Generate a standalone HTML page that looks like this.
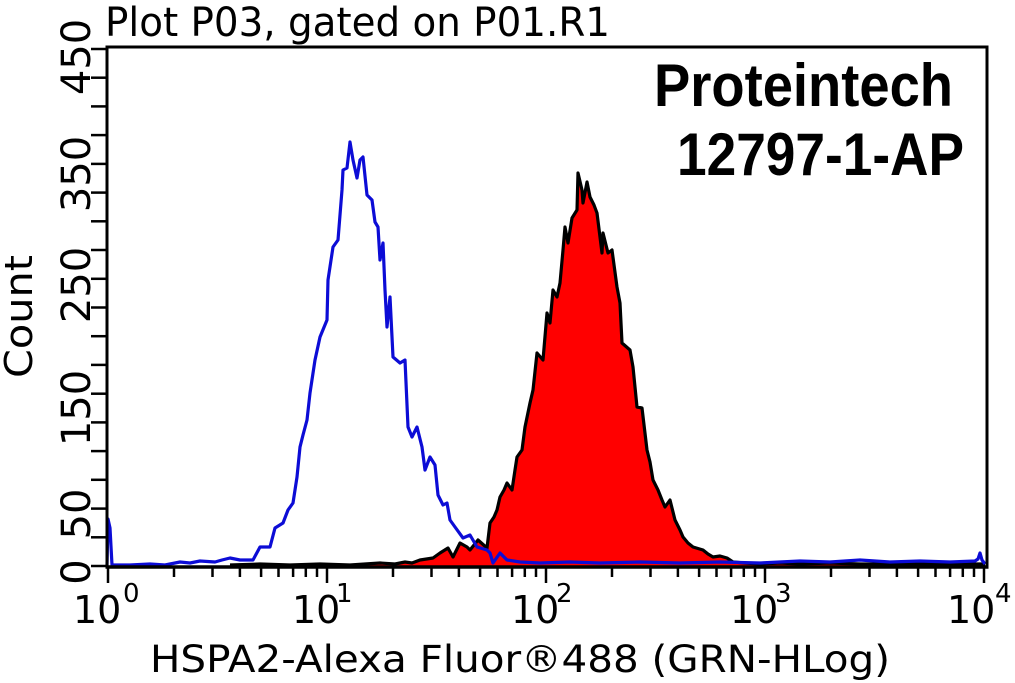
<!DOCTYPE html>
<html>
<head>
<meta charset="utf-8">
<style>
html,body{margin:0;padding:0;background:#fff;}
svg{display:block;}
text{font-family:"DejaVu Sans","Liberation Sans",sans-serif;fill:#000;}
.b{font-family:"Liberation Sans",Arial,sans-serif;font-weight:bold;}
</style>
</head>
<body>
<svg width="1015" height="683" viewBox="0 0 1015 683" xmlns="http://www.w3.org/2000/svg">
<rect x="0" y="0" width="1015" height="683" fill="#fff"/>

<!-- Title -->
<text x="105" y="36" font-size="40" textLength="505" lengthAdjust="spacingAndGlyphs">Plot P03, gated on P01.R1</text>

<!-- Red histogram (filled) -->
<path d="M230,566 L230,565 L260,564 L290,565 L320,564 L350,565 L380,563 L395,564 L405,562 L412,563 L420,560 L433,558 L440,553 L448,548 L453,557 L460,543 L467,547 L470,550 L478,540 L487,548 L490,523 L494,517 L497,510 L500,497 L504,490 L507,483 L512,490 L515,470 L517,457 L522,450 L525,427 L530,403 L533,390 L537,353 L543,360 L547,313 L550,323 L553,290 L557,297 L560,283 L563,250 L565,227 L568,243 L572,218 L577,210 L578,173 L582,190 L583,203 L587,182 L590,197 L594,205 L597,213 L602,253 L603,233 L608,253 L612,250 L617,287 L620,303 L622,343 L630,350 L633,367 L637,407 L642,408 L647,450 L650,462 L653,480 L658,490 L662,500 L665,507 L670,500 L675,520 L680,530 L683,537 L688,543 L693,547 L703,550 L708,554 L713,557 L720,556 L727,558 L733,562 L745,563 L760,564 L780,563 L800,564 L830,563 L860,564 L900,564 L940,564 L985,564 L985,566 Z" fill="#ff0000" stroke="none"/>
<path d="M230,565 L260,564 L290,565 L320,564 L350,565 L380,563 L395,564 L405,562 L412,563 L420,560 L433,558 L440,553 L448,548 L453,557 L460,543 L467,547 L470,550 L478,540 L487,548 L490,523 L494,517 L497,510 L500,497 L504,490 L507,483 L512,490 L515,470 L517,457 L522,450 L525,427 L530,403 L533,390 L537,353 L543,360 L547,313 L550,323 L553,290 L557,297 L560,283 L563,250 L565,227 L568,243 L572,218 L577,210 L578,173 L582,190 L583,203 L587,182 L590,197 L594,205 L597,213 L602,253 L603,233 L608,253 L612,250 L617,287 L620,303 L622,343 L630,350 L633,367 L637,407 L642,408 L647,450 L650,462 L653,480 L658,490 L662,500 L665,507 L670,500 L675,520 L680,530 L683,537 L688,543 L693,547 L703,550 L708,554 L713,557 L720,556 L727,558 L733,562 L745,563 L760,564 L780,563 L800,564 L830,563 L860,564 L900,564 L940,564 L985,564" fill="none" stroke="#000" stroke-width="3.2" stroke-linejoin="round"/>

<!-- Blue histogram -->
<path d="M107,566 L108,519 L110,528 L112,565 L130,565 L150,564 L165,565 L180,562 L190,563 L200,561 L215,562 L222,560 L230,558 L240,560 L253,560 L260,547 L270,547 L275,528 L283,523 L288,510 L293,503 L297,477 L300,447 L303,435 L307,420 L310,393 L315,360 L320,337 L327,320 L328,280 L333,247 L338,240 L342,190 L343,170 L347,168 L350,142 L353,160 L357,178 L360,160 L363,157 L367,195 L372,200 L375,222 L378,227 L380,260 L383,243 L385,290 L387,327 L390,297 L393,357 L400,363 L405,360 L408,427 L412,437 L417,427 L422,447 L425,470 L430,457 L435,465 L438,495 L443,505 L447,503 L450,520 L455,527 L463,538 L470,535 L477,547 L487,550 L490,553 L493,563 L500,553 L507,560 L520,562 L540,563 L570,562 L600,563 L640,562 L680,563 L720,562 L760,563 L800,561 L830,562 L860,560 L890,562 L920,561 L950,562 L975,561 L978,559 L980,553 L982,560 L985,564" fill="none" stroke="#0c0cd6" stroke-width="3.2" stroke-linejoin="round"/>

<!-- Frame -->
<rect x="107" y="47" width="880" height="520" fill="none" stroke="#000" stroke-width="3"/>
<line x1="105.5" y1="567" x2="988.5" y2="567" stroke="#000" stroke-width="3.5"/>

<!-- Y ticks -->
<g stroke="#000" stroke-width="2.5">
<line x1="91" y1="566" x2="107" y2="566"/>
<line x1="91" y1="537.3" x2="107" y2="537.3"/>
<line x1="91" y1="508.6" x2="107" y2="508.6"/>
<line x1="91" y1="479.8" x2="107" y2="479.8"/>
<line x1="91" y1="451.1" x2="107" y2="451.1"/>
<line x1="91" y1="422.4" x2="107" y2="422.4"/>
<line x1="91" y1="393.7" x2="107" y2="393.7"/>
<line x1="91" y1="364.9" x2="107" y2="364.9"/>
<line x1="91" y1="336.2" x2="107" y2="336.2"/>
<line x1="91" y1="307.5" x2="107" y2="307.5"/>
<line x1="91" y1="278.8" x2="107" y2="278.8"/>
<line x1="91" y1="250.0" x2="107" y2="250.0"/>
<line x1="91" y1="221.3" x2="107" y2="221.3"/>
<line x1="91" y1="192.6" x2="107" y2="192.6"/>
<line x1="91" y1="163.9" x2="107" y2="163.9"/>
<line x1="91" y1="135.1" x2="107" y2="135.1"/>
<line x1="91" y1="106.4" x2="107" y2="106.4"/>
<line x1="91" y1="77.7" x2="107" y2="77.7"/>
<line x1="91" y1="49" x2="107" y2="49"/>
</g>

<!-- Y labels (rotated) -->
<g font-size="40" text-anchor="middle">
<text transform="translate(90,57) rotate(-90)">450</text>
<text transform="translate(90,174) rotate(-90)">350</text>
<text transform="translate(90,285) rotate(-90)">250</text>
<text transform="translate(90,408) rotate(-90)">150</text>
<text transform="translate(90,514) rotate(-90)">50</text>
<text transform="translate(90,572) rotate(-90)">0</text>
</g>

<!-- Y axis title -->
<text transform="translate(32,378) rotate(-90)" font-size="38" textLength="123" lengthAdjust="spacingAndGlyphs">Count</text>

<!-- X ticks -->
<g stroke="#000" stroke-width="2.5">
<line x1="108" y1="567" x2="108" y2="583"/>
<line x1="174" y1="567" x2="174" y2="577"/>
<line x1="212.5" y1="567" x2="212.5" y2="577"/>
<line x1="239.9" y1="567" x2="239.9" y2="577"/>
<line x1="261.1" y1="567" x2="261.1" y2="577"/>
<line x1="278.5" y1="567" x2="278.5" y2="577"/>
<line x1="293.1" y1="567" x2="293.1" y2="577"/>
<line x1="305.8" y1="567" x2="305.8" y2="577"/>
<line x1="317.0" y1="567" x2="317.0" y2="577"/>
<line x1="327" y1="567" x2="327" y2="583"/>
<line x1="393" y1="567" x2="393" y2="577"/>
<line x1="431.5" y1="567" x2="431.5" y2="577"/>
<line x1="458.9" y1="567" x2="458.9" y2="577"/>
<line x1="480.1" y1="567" x2="480.1" y2="577"/>
<line x1="497.5" y1="567" x2="497.5" y2="577"/>
<line x1="512.1" y1="567" x2="512.1" y2="577"/>
<line x1="524.8" y1="567" x2="524.8" y2="577"/>
<line x1="536.0" y1="567" x2="536.0" y2="577"/>
<line x1="546" y1="567" x2="546" y2="583"/>
<line x1="612" y1="567" x2="612" y2="577"/>
<line x1="650.5" y1="567" x2="650.5" y2="577"/>
<line x1="677.9" y1="567" x2="677.9" y2="577"/>
<line x1="699.1" y1="567" x2="699.1" y2="577"/>
<line x1="716.5" y1="567" x2="716.5" y2="577"/>
<line x1="731.1" y1="567" x2="731.1" y2="577"/>
<line x1="743.8" y1="567" x2="743.8" y2="577"/>
<line x1="755.0" y1="567" x2="755.0" y2="577"/>
<line x1="765" y1="567" x2="765" y2="583"/>
<line x1="831" y1="567" x2="831" y2="577"/>
<line x1="869.5" y1="567" x2="869.5" y2="577"/>
<line x1="896.9" y1="567" x2="896.9" y2="577"/>
<line x1="918.1" y1="567" x2="918.1" y2="577"/>
<line x1="935.5" y1="567" x2="935.5" y2="577"/>
<line x1="950.1" y1="567" x2="950.1" y2="577"/>
<line x1="962.8" y1="567" x2="962.8" y2="577"/>
<line x1="974.0" y1="567" x2="974.0" y2="577"/>
<line x1="984" y1="567" x2="984" y2="583"/>
</g>

<!-- X tick labels -->
<g font-size="38">
<text x="73" y="623">10</text>
<text x="292" y="623">10</text>
<text x="511" y="623">10</text>
<text x="730" y="623">10</text>
<text x="947" y="623">10</text>
</g>
<g font-size="26">
<text x="123" y="602">0</text>
<text x="336" y="602">1</text>
<text x="556" y="602">2</text>
<text x="775" y="602">3</text>
<text x="995" y="602">4</text>
</g>

<!-- X axis title -->
<text x="150" y="672" font-size="37" textLength="740" lengthAdjust="spacingAndGlyphs">HSPA2-Alexa Fluor®488 (GRN-HLog)</text>

<!-- Watermark -->
<text class="b" x="654" y="106" font-size="60" textLength="299" lengthAdjust="spacingAndGlyphs">Proteintech</text>
<text class="b" x="677" y="175" font-size="60" textLength="287" lengthAdjust="spacingAndGlyphs">12797-1-AP</text>
</svg>
</body>
</html>
